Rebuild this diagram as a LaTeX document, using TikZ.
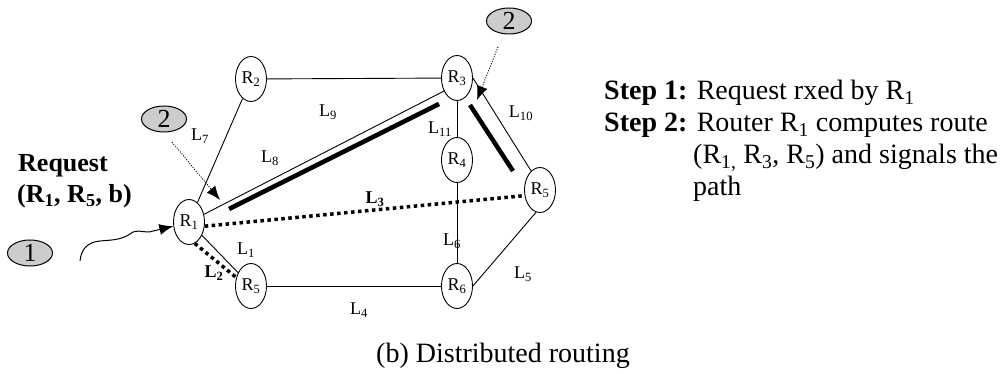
\documentclass[tikz,border=0pt]{standalone}
\usepackage{fontspec}
\setmainfont{Liberation Serif}
\usetikzlibrary{shapes.geometric,arrows.meta,calc}
\begin{document}
\begin{tikzpicture}[x=1pt,y=-1pt,
  router/.style={ellipse, draw, line width=0.9pt, minimum width=31pt, minimum height=45pt, inner sep=0pt, font=\fontsize{18}{20}\selectfont},
  badge/.style={ellipse, draw, fill=gray!40, line width=1pt, minimum width=45pt, minimum height=26pt, inner sep=0pt, font=\fontsize{26}{26}\selectfont},
  link/.style={line width=0.9pt},
  route/.style={line width=4.5pt},
  dotroute/.style={line width=3.5pt, dash pattern=on 3.5pt off 3.5pt},
  pointer/.style={line width=0.9pt, dash pattern=on 1pt off 1.5pt, -{Latex[length=14pt,width=11pt]}},
  wave/.style={line width=1pt, -{Latex[length=14pt,width=11pt]}},
  lab/.style={font=\fontsize{18}{20}\selectfont, inner sep=0pt},
  blab/.style={font=\bfseries\fontsize{18}{20}\selectfont, inner sep=0pt},
  txt/.style={font=\fontsize{28}{32}\selectfont, anchor=base west, inner sep=0pt},
  btxt/.style={font=\bfseries\fontsize{26}{30}\selectfont, anchor=base west, inner sep=0pt}
]
\useasboundingbox (0,0) rectangle (1002,374);
% routers
\node[router] (R1) at (189,222) {R\textsubscript{1}};
\node[router] (R2) at (251,79) {R\textsubscript{2}};
\node[router] (R3) at (457,78) {R\textsubscript{3}};
\node[router] (R4) at (457,160) {R\textsubscript{4}};
\node[router] (R5r) at (540,190) {R\textsubscript{5}};
\node[router] (R5b) at (251,286) {R\textsubscript{5}};
\node[router] (R6) at (457,286) {R\textsubscript{6}};
% links
\draw[link] (R2) -- (R3);
\draw[link] (R2) -- (R1);
\draw[link] (R1) -- (R3.-135);
\draw[link] (R3) -- (R4);
\draw[link] (R4) -- (R6);
\draw[link] (R3.east) -- (R5r.115);
\draw[link] (R5r.-100) -- (R6.east);
\draw[link] (R5b) -- (R6);
\draw[link] (R1) -- (R5b);
\draw[dotroute] (R1.-15) -- (R5r.-160);
\draw[dotroute] (R1.-75) -- (R5b.150);
% computed route
\coordinate (a1) at (229,209); \coordinate (a2) at (439,104);
\coordinate (b1) at (470,105); \coordinate (b2) at (513,171);
\draw[route] (a1) -- (a2);
\draw[route] (b1) -- (b2);
% badges
\node[badge] (B1) at (30,253) {1};
\node[badge] (B2l) at (164,119) {2};
\node[badge] (B2t) at (509,21) {2};
% pointers
\coordinate (p1) at (172,142); \coordinate (p1e) at (220,200);
\coordinate (p2) at (498,47); \coordinate (p2e) at (477,100);
\draw[pointer] (p1) -- (p1e);
\draw[pointer] (p2) -- (p2e);
\coordinate (w0) at (80,261);
\draw[wave] (w0) .. controls (81,249) and (88,242) .. (100,241)
  .. controls (112,240) and (121,240) .. (130,234)
  .. controls (136,229) and (141,232) .. (149,232) -- (R1.-165);
% link labels
\node[lab] (l7) at (200,136) {L\textsubscript{7}};
\node[lab] (l8) at (270,158) {L\textsubscript{8}};
\node[lab] (l9) at (328,112) {L\textsubscript{9}};
\node[lab] (l11) at (440,129) {L\textsubscript{11}};
\node[lab] (l10) at (521,113) {L\textsubscript{10}};
\node[blab] (l3) at (375,199) {L\textsubscript{3}};
\node[lab] (l1) at (246,250) {L\textsubscript{1}};
\node[blab] (l2) at (214,273) {L\textsubscript{2}};
\node[lab] (l6) at (452,241) {L\textsubscript{6}};
\node[lab] (l5) at (523,274) {L\textsubscript{5}};
\node[lab] (l4) at (359,310) {L\textsubscript{4}};
% request text
\node[btxt] (rq1) at (18,172) {Request};
\node[btxt] (rq2) at (17,203) {(R\textsubscript{1}, R\textsubscript{5}, b)};
% steps
\node[txt] (s1) at (604,100) {\textbf{Step 1:} Request rxed by R\textsubscript{1}};
\node[txt] (s2) at (604,132) {\textbf{Step 2:} Router R\textsubscript{1} computes route};
\node[txt] (s3) at (693,164) {(R\textsubscript{1,} R\textsubscript{3}, R\textsubscript{5}) and signals the};
\node[txt] (s4) at (693,196) {path};
% caption
\node[font=\fontsize{28}{32}\selectfont, anchor=base, inner sep=0pt] (cap) at (503,362) {(b) Distributed routing};
\end{tikzpicture}
\end{document}
